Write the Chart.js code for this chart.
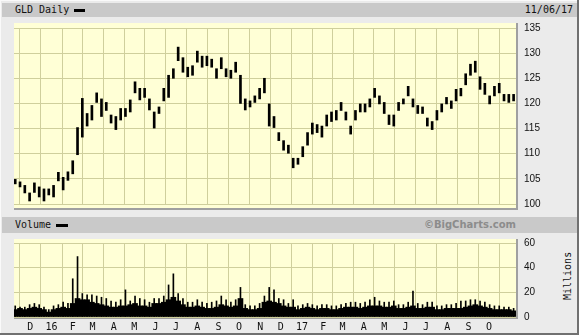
<!DOCTYPE html>
<html>
<head>
<meta charset="utf-8">
<script src="https://cdn.jsdelivr.net/npm/chart.js@4.4.1/dist/chart.umd.min.js"></script>
<style>
  body { margin: 0; }
  #frame { position: relative; width: 579px; height: 335px; background: #ebebeb; overflow: hidden;
           font-family: "DejaVu Sans Mono", monospace; font-size: 10px; color: #111; }
  #frame div, #frame canvas { position: absolute; }
  .band { background: #c9c9c9; left: 2px; width: 575px; }
  .plotbg { left: 14px; width: 502px; background: #ffffd6;
            border-right: 2px solid #a0a0a0; border-bottom: 2px solid #a0a0a0; }
  .dash { background: #000; height: 3px; }
</style>
</head>
<body>
<div id="frame">
  <div style="left:0;top:0;width:579px;height:1px;background:#fafafa"></div>
  <div style="left:0;top:0;width:1px;height:335px;background:#fafafa"></div>
  <div style="left:577px;top:0;width:2px;height:335px;background:#707070"></div>
  <div style="left:0;top:333px;width:579px;height:2px;background:#707070"></div>

  <div class="band" style="top:3px;height:14px"></div>
  <div style="left:15px;top:4px;line-height:12px">GLD Daily</div>
  <div class="dash" style="left:74px;top:9px;width:11px"></div>
  <div style="right:6px;top:4px;line-height:12px">11/06/17</div>

  <div class="plotbg" style="top:23px;height:185px"></div>

  <div class="band" style="top:217px;height:16px"></div>
  <div style="left:15px;top:219px;line-height:12px">Volume</div>
  <div class="dash" style="left:56px;top:224px;width:12px"></div>
  <div style="right:63px;top:219px;line-height:12px;font:bold 10px 'DejaVu Sans';color:#8c8c8c">©BigCharts.com</div>

  <div class="plotbg" style="top:239px;height:78px"></div>
  <div style="left:544px;top:271px;width:48px;line-height:10px;text-align:center;transform:rotate(-90deg)">Millions</div>

  <canvas id="price" width="552" height="204" style="left:4px;top:14px"></canvas>
  <canvas id="volume" width="552" height="106" style="left:4px;top:229px"></canvas>
</div>

<script>
// weekly bars, first week starts Monday 2015-11-09
const firstWeek = '2015-11-09';

const priceLow = [
  104.0, 103.4, 102.2, 100.6, 102.3, 101.4, 100.6, 101.8, 101.4, 104.6,
  102.8, 104.7, 106.0, 109.8, 113.3, 115.5, 116.7, 120.2, 117.4, 118.6,
  116.1, 114.8, 116.7, 117.4, 118.3, 122.1, 120.7, 121.2, 118.7, 115.1,
  118.0, 120.5, 121.2, 125.0, 128.5, 126.2, 125.3, 125.6, 128.2, 127.2,
  127.5, 127.2, 125.0, 126.9, 125.3, 125.0, 126.2, 120.0, 118.7, 119.3,
  120.2, 120.9, 122.1, 115.5, 115.2, 112.6, 110.7, 110.1, 107.2, 107.9,
  109.4, 111.7, 113.9, 114.2, 113.3, 115.5, 116.4, 116.7, 118.6, 116.7,
  113.9, 116.7, 118.3, 118.3, 119.3, 121.2, 119.9, 118.0, 115.8, 115.5,
  118.6, 119.9, 121.5, 119.3, 118.0, 118.0, 115.5, 114.8, 116.7, 118.3,
  119.9, 119.0, 120.5, 121.5, 123.7, 125.6, 126.2, 122.8, 121.8, 119.9,
  121.5, 122.1, 120.5, 120.2, 120.5
];
const priceHigh = [
  104.9, 104.4, 103.7, 102.2, 104.2, 103.4, 103.0, 103.0, 103.7, 106.3,
  105.3, 106.4, 108.6, 115.2, 121.0, 118.0, 119.6, 122.1, 120.9, 120.2,
  117.7, 117.4, 119.0, 119.0, 120.7, 124.3, 123.0, 123.0, 120.9, 118.3,
  119.3, 123.0, 125.6, 126.9, 131.2, 129.1, 127.2, 127.5, 130.4, 129.4,
  129.4, 128.8, 126.9, 129.1, 126.9, 126.6, 128.2, 125.6, 120.9, 120.5,
  121.5, 123.0, 125.0, 119.9, 117.4, 114.2, 112.6, 111.7, 109.1, 109.1,
  111.4, 114.2, 116.1, 115.8, 115.5, 117.7, 118.3, 118.6, 120.2, 118.3,
  115.5, 118.6, 119.9, 119.9, 120.9, 123.0, 121.5, 120.2, 117.7, 117.7,
  120.2, 120.9, 123.4, 120.9, 119.6, 119.3, 117.1, 116.4, 118.6, 119.9,
  121.2, 120.5, 122.8, 123.0, 125.9, 127.8, 128.4, 125.3, 124.0, 121.5,
  123.4, 124.0, 121.8, 121.8, 121.8
];
// volume in millions: usual daily level and the week's biggest day
const volUsual = [
  6, 7, 6, 7, 8, 7, 6, 4, 6, 7, 8, 7, 11, 15, 14, 14, 12, 11, 10, 9,
  8, 8, 9, 9, 10, 11, 9, 9, 8, 11, 11, 12, 14, 16, 13, 10, 8, 8, 9, 8,
  7, 7, 8, 10, 9, 8, 9, 15, 7, 6, 6, 7, 12, 13, 12, 11, 9, 8, 8, 6,
  7, 8, 7, 6, 7, 7, 6, 6, 7, 8, 8, 8, 7, 8, 9, 9, 9, 8, 8, 9,
  7, 7, 8, 9, 7, 7, 8, 8, 6, 6, 7, 7, 7, 7, 8, 9, 10, 9, 8, 7,
  6, 6, 6, 6, 5
];
const volPeak = [
  9, 8, 8, 10, 11, 10, 8, 6, 9, 10, 12, 11, 31, 49, 19, 18, 18, 17, 16, 15,
  13, 12, 14, 22, 13, 17, 15, 14, 12, 15, 15, 17, 26, 35, 19, 15, 12, 12, 14, 12,
  11, 12, 13, 17, 14, 12, 14, 24, 10, 9, 9, 11, 17, 24, 22, 15, 14, 11, 14, 9,
  10, 11, 10, 9, 10, 10, 9, 9, 10, 11, 12, 12, 11, 12, 14, 16, 13, 12, 12, 13,
  10, 10, 12, 21, 11, 10, 12, 12, 9, 9, 10, 10, 11, 13, 13, 14, 14, 13, 12, 10,
  9, 9, 8, 8, 7
];

const monthStarts = ['2015-12-01','2016-01-01','2016-02-01','2016-03-01','2016-04-01','2016-05-01',
  '2016-06-01','2016-07-01','2016-08-01','2016-09-01','2016-10-01','2016-11-01','2016-12-01',
  '2017-01-01','2017-02-01','2017-03-01','2017-04-01','2017-05-01','2017-06-01','2017-07-01',
  '2017-08-01','2017-09-01','2017-10-01'];
const monthLabels = ['D','16','F','M','A','M','J','J','A','S','O','N','D',
  '17','F','M','A','M','J','J','A','S','O'];

const priceTicks = { min: 100, max: 135, step: 5 };
const volTicks = { min: 0, max: 60, step: 20 };

function dayOf(s) {
  return (Date.parse(s + 'T00:00:00Z') - Date.parse(firstWeek + 'T00:00:00Z')) / 864e5;
}
const weekDays = priceLow.map((_, i) => i * 7);
const monthDays = monthStarts.map(dayOf);

const gridColor = '#cfcf9c';
const xRange = { min: -1.8, max: 731.5 };

function xScale(showLabels) {
  return {
    type: 'linear', min: xRange.min, max: xRange.max, offset: false,
    afterBuildTicks: s => { s.ticks = monthDays.map(v => ({ value: v })); },
    ticks: {
      display: showLabels, autoSkip: false, maxRotation: 0, padding: 4, color: '#111',
      font: { family: 'DejaVu Sans Mono', size: 10 },
      callback: (v, i) => monthLabels[i]
    },
    grid: { color: gridColor, drawTicks: false },
    border: { display: false },
    afterFit: s => { s.height = showLabels ? 18 : 0; }
  };
}
function yScale(t) {
  return {
    position: 'right', min: t.min, max: t.max,
    ticks: { stepSize: t.step, padding: 8, color: '#111', font: { family: 'Liberation Sans', size: 10 } },
    grid: { color: gridColor, drawTicks: false },
    border: { display: false },
    afterFit: s => { s.width = 40; }
  };
}
const common = {
  responsive: false, animation: false, devicePixelRatio: 1,
  plugins: { legend: { display: false }, tooltip: { enabled: false } }
};

new Chart(document.getElementById('price'), {
  type: 'bar',
  data: {
    datasets: [{
      label: 'GLD Daily',
      data: weekDays.map((d, i) => ({ x: d, y: [priceLow[i], priceHigh[i]] })),
      backgroundColor: '#000',
      barThickness: 2,
      grouped: false
    }]
  },
  options: Object.assign({}, common, {
    layout: { padding: { left: 10, top: 10, bottom: 10, right: 0 } },
    scales: { x: xScale(false), y: yScale(priceTicks) }
  })
});

new Chart(document.getElementById('volume'), {
  type: 'bar',
  data: {
    datasets: [{
      label: 'Volume',
      data: weekDays.map((d, i) => ({ x: d, y: volUsual[i] })),
      backgroundColor: '#000',
      barThickness: 5,
      grouped: false
    }, {
      label: 'Volume peak',
      data: weekDays.map((d, i) => ({ x: d, y: volPeak[i] })),
      backgroundColor: '#000',
      barThickness: 1,
      grouped: false
    }]
  },
  options: Object.assign({}, common, {
    layout: { padding: { left: 10, top: 10, bottom: 0, right: 0 } },
    scales: { x: xScale(true), y: yScale(volTicks) }
  })
});
</script>
</body>
</html>
